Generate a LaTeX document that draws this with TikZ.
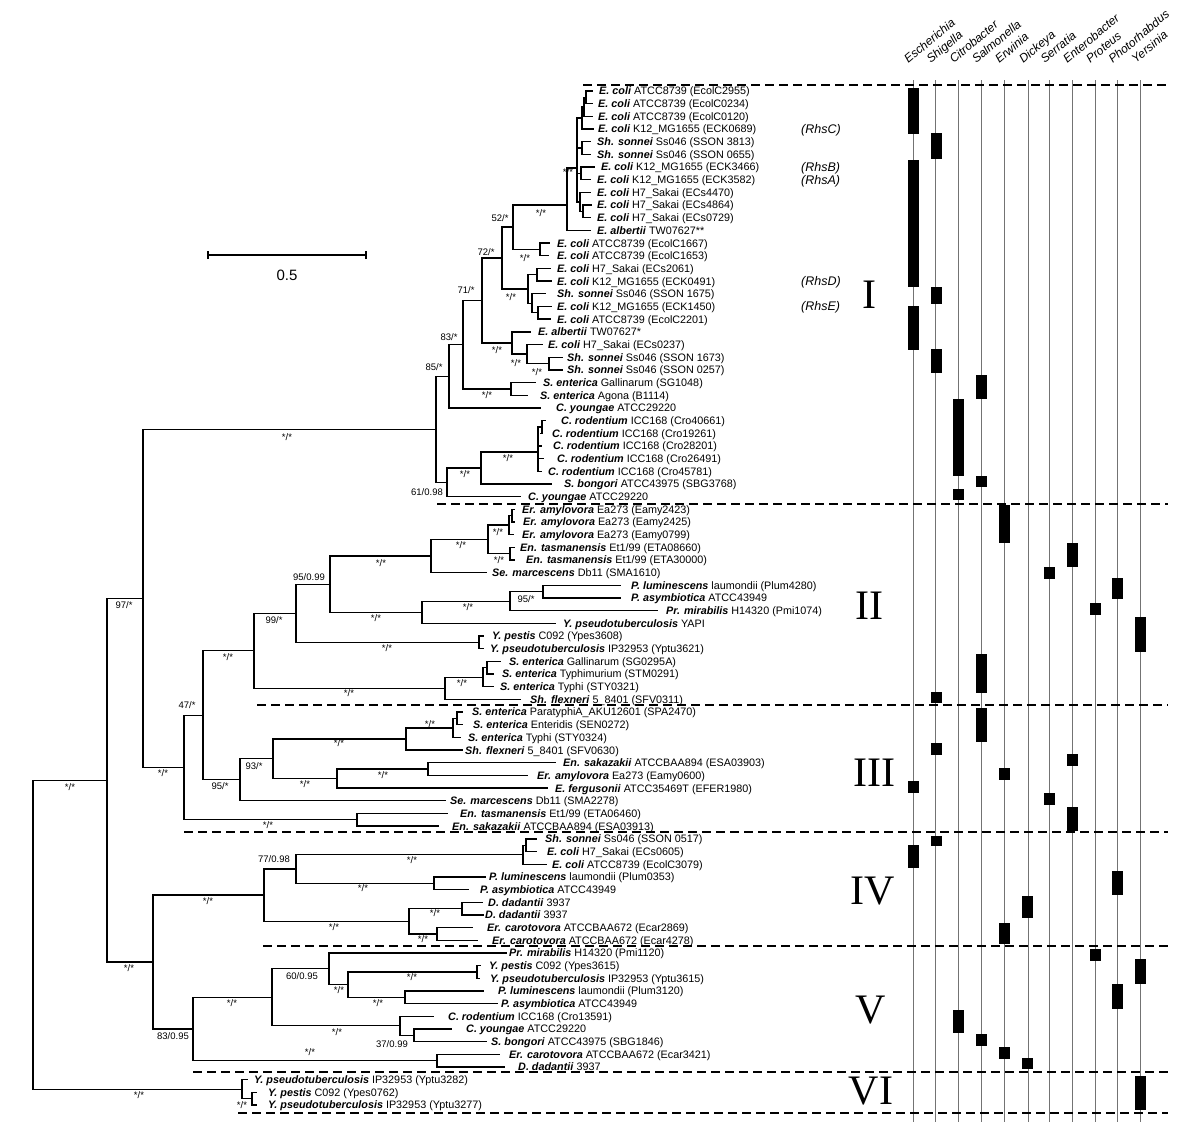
\documentclass[tikz,border=0pt]{standalone}
\usepackage{fontspec}
\setmainfont{Liberation Sans}
\newfontfamily\romfont{Liberation Serif}
\newcommand\spn[1]{\textbf{\textit{#1}}}
\newcommand\rowy[1]{91+12.675*(#1-1)}
\begin{document}
\begin{tikzpicture}[x=1pt,y=-1pt,
  tree/.style={line width=1.35pt,line cap=rect},
  lbl/.style={anchor=base west,inner sep=0pt,font=\fontsize{10.8}{12}\selectfont},
  rhs/.style={anchor=base west,inner sep=0pt,font=\fontsize{12.5}{14}\selectfont\itshape},
  supv/.style={inner sep=0pt,font=\fontsize{9.5}{11}\selectfont},
  roman/.style={inner sep=0pt,font=\fontsize{42}{44}\romfont},
  hdr/.style={rotate=40,anchor=base west,inner sep=0pt,font=\fontsize{12}{14}\selectfont\itshape},
  sepline/.style={line width=1.4pt,dash pattern=on 9pt off 5pt},
  colline/.style={line width=0.9pt,black!55},
  bar/.style={fill=black}]
\useasboundingbox (0,0) rectangle (1200,1136);
\newcommand\leaf[5]{%
  \coordinate (#1) at (#2,{\rowy{#4}});
  \node[lbl] (#1t) at (#3,{\rowy{#4}+3.9}) {#5};}

% ---------- genus columns ----------
\foreach \x/\n [count=\i] in {913.3/Escherichia,935.7/Shigella,958.7/Citrobacter,981.3/Salmonella,1004.3/Erwinia,1028.3/Dickeya,1049.7/Serratia,1072.3/Enterobacter,1095.3/Proteus,1117.7/Photorhabdus,1140.7/Yersinia}{
  \coordinate (ct\i) at (\x,80);
  \coordinate (cb\i) at (\x,1122);
  \draw[colline] (ct\i) -- (cb\i);
  \node[hdr] (h\i) at (\x-5,64) {\n};
}

% ---------- separators ----------
\foreach \xa/\yy in {583/85,437/504,257/705,184/832,263/946,193/1072,238/1113}
  \draw[sepline] (\xa,\yy) -- (1168,\yy);

% ---------- presence bars ----------
\foreach \c/\a/\b in {1/88/134,1/160/287,1/306/350,2/133/159,2/287/304,2/349/373,4/375/399,4/476/487,3/399/476,3/489/500,
  5/505/543,8/543/567,7/567/579,10/578/599,9/603/615,11/617/652,4/654/693,2/692/703,
  4/708/742,2/743/755,8/754/766,5/768/780,1/781/793,7/793/805,8/807/831,
  2/836/846,1/845/868,10/871/895,6/896/918,5/923/944,
  9/949/961,11/959/984,10/984/1009,3/1010/1033,4/1034/1046,5/1047/1059,6/1058/1069,11/1076/1110}{
  \pgfmathsetmacro\cx{913.3+22.74*(\c-1)}
  \fill[bar] (\cx-5.5,\a) rectangle (\cx+5.5,\b);
}

% ---------- leaves ----------
\leaf{L1}{592}{599}{1}{\spn{E. coli} ATCC8739 (EcolC2955)}
\leaf{L2}{592}{598}{2}{\spn{E. coli} ATCC8739 (EcolC0234)}
\leaf{L3}{592}{598}{3}{\spn{E. coli} ATCC8739 (EcolC0120)}
\leaf{L4}{593}{598}{4}{\spn{E. coli} K12\_MG1655 (ECK0689)}
\leaf{L5}{590}{597}{5}{\spn{Sh. sonnei} Ss046 (SSON 3813)}
\leaf{L6}{590}{597}{6}{\spn{Sh. sonnei} Ss046 (SSON 0655)}
\leaf{L7}{594}{601}{7}{\spn{E. coli} K12\_MG1655 (ECK3466)}
\leaf{L8}{590}{597}{8}{\spn{E. coli} K12\_MG1655 (ECK3582)}
\leaf{L9}{590}{597}{9}{\spn{E. coli} H7\_Sakai (ECs4470)}
\leaf{L10}{591}{597}{10}{\spn{E. coli} H7\_Sakai (ECs4864)}
\leaf{L11}{590}{597}{11}{\spn{E. coli} H7\_Sakai (ECs0729)}
\leaf{L12}{590}{597}{12}{\spn{E. albertii} TW07627**}
\leaf{L13}{549}{557}{13}{\spn{E. coli} ATCC8739 (EcolC1667)}
\leaf{L14}{548}{557}{14}{\spn{E. coli} ATCC8739 (EcolC1653)}
\leaf{L15}{550}{557}{15}{\spn{E. coli} H7\_Sakai (ECs2061)}
\leaf{L16}{551}{557}{16}{\spn{E. coli} K12\_MG1655 (ECK0491)}
\leaf{L17}{545}{557}{17}{\spn{Sh. sonnei} Ss046 (SSON 1675)}
\leaf{L18}{551}{557}{18}{\spn{E. coli} K12\_MG1655 (ECK1450)}
\leaf{L19}{550}{557}{19}{\spn{E. coli} ATCC8739 (EcolC2201)}
\leaf{L20}{530}{538}{20}{\spn{E. albertii} TW07627*}
\leaf{L21}{542}{548}{21}{\spn{E. coli} H7\_Sakai (ECs0237)}
\leaf{L22}{562}{567}{22}{\spn{Sh. sonnei} Ss046 (SSON 1673)}
\leaf{L23}{562}{567}{23}{\spn{Sh. sonnei} Ss046 (SSON 0257)}
\leaf{L24}{535}{543}{24}{\spn{S. enterica} Gallinarum (SG1048)}
\leaf{L25}{527}{540}{25}{\spn{S. enterica} Agona (B1114)}
\leaf{L26}{540}{556}{26}{\spn{C. youngae} ATCC29220}
\leaf{L27}{545}{561}{27}{\spn{C. rodentium} ICC168 (Cro40661)}
\leaf{L28}{541}{552}{28}{\spn{C. rodentium} ICC168 (Cro19261)}
\leaf{L29}{541}{553}{29}{\spn{C. rodentium} ICC168 (Cro28201)}
\leaf{L30}{543}{557}{30}{\spn{C. rodentium} ICC168 (Cro26491)}
\leaf{L31}{541}{548}{31}{\spn{C. rodentium} ICC168 (Cro45781)}
\leaf{L32}{551}{564}{32}{\spn{S. bongori} ATCC43975 (SBG3768)}
\leaf{L33}{520}{528}{33}{\spn{C. youngae} ATCC29220}
\leaf{L34}{514}{522}{34}{\spn{Er. amylovora} Ea273 (Eamy2423)}
\leaf{L35}{514}{523}{35}{\spn{Er. amylovora} Ea273 (Eamy2425)}
\leaf{L36}{513}{522}{36}{\spn{Er. amylovora} Ea273 (Eamy0799)}
\leaf{L37}{514}{520}{37}{\spn{En. tasmanensis} Et1/99 (ETA08660)}
\leaf{L38}{514}{526}{38}{\spn{En. tasmanensis} Et1/99 (ETA30000)}
\leaf{L39}{486}{492}{39}{\spn{Se. marcescens} Db11 (SMA1610)}
\leaf{L40}{620}{631}{40}{\spn{P. luminescens} laumondii (Plum4280)}
\leaf{L41}{620}{631}{41}{\spn{P. asymbiotica} ATCC43949}
\leaf{L42}{657}{666}{42}{\spn{Pr. mirabilis} H14320 (Pmi1074)}
\leaf{L43}{555}{563}{43}{\spn{Y. pseudotuberculosis} YAPI}
\leaf{L44}{483}{492}{44}{\spn{Y. pestis} C092 (Ypes3608)}
\leaf{L45}{483}{490}{45}{\spn{Y. pseudotuberculosis} IP32953 (Yptu3621)}
\leaf{L46}{500}{509}{46}{\spn{S. enterica} Gallinarum (SG0295A)}
\leaf{L47}{493}{502}{47}{\spn{S. enterica} Typhimurium (STM0291)}
\leaf{L48}{493}{500}{48}{\spn{S. enterica} Typhi (STY0321)}
\leaf{L49}{520}{530}{49}{\spn{Sh. flexneri} 5\_8401 (SFV0311)}
\leaf{L50}{462}{472}{50}{\spn{S. enterica} ParatyphiA\_AKU12601 (SPA2470)}
\leaf{L51}{462}{473}{51}{\spn{S. enterica} Enteridis (SEN0272)}
\leaf{L52}{460}{468}{52}{\spn{S. enterica} Typhi (STY0324)}
\leaf{L53}{462}{465}{53}{\spn{Sh. flexneri} 5\_8401 (SFV0630)}
\leaf{L54}{555}{563}{54}{\spn{En. sakazakii} ATCCBAA894 (ESA03903)}
\leaf{L55}{527}{537}{55}{\spn{Er. amylovora} Ea273 (Eamy0600)}
\leaf{L56}{547}{555}{56}{\spn{E. fergusonii} ATCC35469T (EFER1980)}
\leaf{L57}{445}{450}{57}{\spn{Se. marcescens} Db11 (SMA2278)}
\leaf{L58}{447}{460}{58}{\spn{En. tasmanensis} Et1/99 (ETA06460)}
\leaf{L59}{438}{452}{59}{\spn{En. sakazakii} ATCCBAA894 (ESA03913)}
\leaf{L60}{536}{545}{60}{\spn{Sh. sonnei} Ss046 (SSON 0517)}
\leaf{L61}{536}{547}{61}{\spn{E. coli} H7\_Sakai (ECs0605)}
\leaf{L62}{546}{552}{62}{\spn{E. coli} ATCC8739 (EcolC3079)}
\leaf{L63}{485}{489}{63}{\spn{P. luminescens} laumondii (Plum0353)}
\leaf{L64}{468}{480}{64}{\spn{P. asymbiotica} ATCC43949}
\leaf{L65}{482}{488}{65}{\spn{D. dadantii} 3937}
\leaf{L66}{483}{485}{66}{\spn{D. dadantii} 3937}
\leaf{L67}{472}{487}{67}{\spn{Er. carotovora} ATCCBAA672 (Ecar2869)}
\leaf{L68}{477}{492}{68}{\spn{Er. carotovora} ATCCBAA672 (Ecar4278)}
\leaf{L69}{506}{509}{69}{\spn{Pr. mirabilis} H14320 (Pmi1120)}
\leaf{L70}{480}{489}{70}{\spn{Y. pestis} C092 (Ypes3615)}
\leaf{L71}{479}{490}{71}{\spn{Y. pseudotuberculosis} IP32953 (Yptu3615)}
\leaf{L72}{483}{498}{72}{\spn{P. luminescens} laumondii (Plum3120)}
\leaf{L73}{497}{501}{73}{\spn{P. asymbiotica} ATCC43949}
\leaf{L74}{433}{448}{74}{\spn{C. rodentium} ICC168 (Cro13591)}
\leaf{L75}{451}{466}{75}{\spn{C. youngae} ATCC29220}
\leaf{L76}{486}{491}{76}{\spn{S. bongori} ATCC43975 (SBG1846)}
\leaf{L77}{499}{509}{77}{\spn{Er. carotovora} ATCCBAA672 (Ecar3421)}
\leaf{L78}{504}{518}{78}{\spn{D. dadantii} 3937}
\leaf{L79}{247}{254}{79}{\spn{Y. pseudotuberculosis} IP32953 (Yptu3282)}
\leaf{L80}{256}{268}{80}{\spn{Y. pestis} C092 (Ypes0762)}
\leaf{L81}{256}{268}{81}{\spn{Y. pseudotuberculosis} IP32953 (Yptu3277)}

% ---------- internal nodes ----------
\coordinate (a1) at (586,97.4);
\coordinate (a2) at (584,107);
\coordinate (a3) at (582,118);
\coordinate (a4) at (582,148);
\coordinate (a5) at (581,173.4);
\coordinate (a6b) at (583,211.5);
\coordinate (a6) at (580,202);
\coordinate (b0) at (577,168);
\coordinate (B) at (567,205);
\coordinate (n1314) at (540,249.5);
\coordinate (N52) at (513,227);
\coordinate (n1516) at (537,274.8);
\coordinate (n1819) at (538,312.8);
\coordinate (nX17) at (532,303.3);
\coordinate (D) at (528,289);
\coordinate (X72) at (502,258);
\coordinate (H) at (549,363.5);
\coordinate (G) at (527,354);
\coordinate (F) at (512,343);
\coordinate (N71) at (482,300.5);
\coordinate (Salm) at (511,388.9);
\coordinate (N83) at (463,344.7);
\coordinate (N85) at (449,376.3);
\coordinate (c1) at (542,426.9);
\coordinate (Crod) at (538,452);
\coordinate (K) at (481,468);
\coordinate (N61) at (447,482.3);
\coordinate (NI) at (436,429.3);
\coordinate (e1) at (512,515.6);
\coordinate (Erw) at (509,525);
\coordinate (Ent) at (510,553.6);
\coordinate (N488) at (488,539.3);
\coordinate (N431) at (431,556);
\coordinate (N543) at (543,591.7);
\coordinate (N510) at (510,601.2);
\coordinate (N422) at (422,612.3);
\coordinate (N330) at (330,584.2);
\coordinate (Yp) at (479,642.4);
\coordinate (N296) at (296,613.3);
\coordinate (s1) at (487,667.7);
\coordinate (sub) at (483,677.2);
\coordinate (SalmII) at (445,688.3);
\coordinate (N254) at (254,650.8);
\coordinate (nA) at (457,718.4);
\coordinate (nS) at (453,727.9);
\coordinate (S3) at (406,739);
\coordinate (N428) at (428,769.1);
\coordinate (N337) at (337,778.6);
\coordinate (N273) at (273,758.8);
\coordinate (N240) at (240,779.8);
\coordinate (N203) at (203,715.3);
\coordinate (N357) at (357,819.8);
\coordinate (N184) at (184,767.5);
\coordinate (N143) at (143,598.4);
\coordinate (n6061) at (526,845.2);
\coordinate (N523) at (523,854.7);
\coordinate (N434) at (434,883.2);
\coordinate (N296b) at (296,869);
\coordinate (Dd) at (462,908.5);
\coordinate (Ec) at (437,933.9);
\coordinate (N409) at (409,921.2);
\coordinate (NIV) at (264,895.1);
\coordinate (Yp2) at (477,972);
\coordinate (Pl2) at (405,997.3);
\coordinate (N348) at (348,984.6);
\coordinate (N330b) at (329,968.8);
\coordinate (N415) at (414,1035.3);
\coordinate (N400) at (400,1025.8);
\coordinate (N272) at (272,997.3);
\coordinate (Ed) at (437,1060.7);
\coordinate (NV) at (193,1029);
\coordinate (N153) at (153,962);
\coordinate (N107) at (107,780.2);
\coordinate (n8081) at (252,1098.7);
\coordinate (NVI) at (242,1089.2);
\coordinate (Root) at (33,934.7);

% ---------- branches ----------
\foreach \p/\c in {a1/L1,a1/L2,a2/a1,a2/L3,a3/a2,a3/L4,a4/L5,a4/L6,a5/L7,a5/L8,a6/L9,a6/a6b,a6b/L10,a6b/L11,
  b0/a3,b0/a4,b0/a5,b0/a6,B/b0,B/L12,n1314/L13,n1314/L14,N52/B,N52/n1314,
  n1516/L15,n1516/L16,n1819/L18,n1819/L19,nX17/L17,nX17/n1819,D/n1516,D/nX17,X72/N52,X72/D,
  H/L22,H/L23,G/L21,G/H,F/L20,F/G,N71/X72,N71/F,Salm/L24,Salm/L25,N83/N71,N83/Salm,N85/N83,N85/L26,
  c1/L27,c1/L28,Crod/c1,Crod/L29,Crod/L30,Crod/L31,K/Crod,K/L32,N61/K,N61/L33,NI/N85,NI/N61,
  e1/L34,e1/L35,Erw/e1,Erw/L36,Ent/L37,Ent/L38,N488/Erw,N488/Ent,N431/N488,N431/L39,
  N543/L40,N543/L41,N510/N543,N510/L42,N422/N510,N422/L43,N330/N431,N330/N422,
  Yp/L44,Yp/L45,N296/N330,N296/Yp,s1/L46,s1/L47,sub/s1,sub/L48,SalmII/sub,SalmII/L49,N254/N296,N254/SalmII,
  nA/L50,nA/L51,nS/nA,nS/L52,S3/nS,S3/L53,N428/L54,N428/L55,N337/N428,N337/L56,N273/S3,N273/N337,
  N240/N273,N240/L57,N203/N254,N203/N240,N357/L58,N357/L59,N184/N203,N184/N357,N143/NI,N143/N184,
  n6061/L60,n6061/L61,N523/n6061,N523/L62,N434/L63,N434/L64,N296b/N523,N296b/N434,
  Dd/L65,Dd/L66,Ec/L67,Ec/L68,N409/Dd,N409/Ec,NIV/N296b,NIV/N409,
  Yp2/L70,Yp2/L71,Pl2/L72,Pl2/L73,N348/Yp2,N348/Pl2,N330b/L69,N330b/N348,
  N415/L75,N415/L76,N400/L74,N400/N415,N272/N330b,N272/N400,Ed/L77,Ed/L78,NV/N272,NV/Ed,
  N153/NIV,N153/NV,N107/N143,N107/N153,n8081/L80,n8081/L81,NVI/L79,NVI/n8081,Root/N107,Root/NVI}
  \draw[tree] (\p) |- (\c);

% ---------- support values ----------
\node[supv] (v1) at (541,213) {*/*};
\node[supv] (v2) at (568,172) {*/*};
\node[supv] (v3) at (500,218) {52/*};
\node[supv] (v4) at (525,258) {*/*};
\node[supv] (v5) at (486,252) {72/*};
\node[supv] (v6) at (511,297) {*/*};
\node[supv] (v7) at (466,290) {71/*};
\node[supv] (v8) at (497,350) {*/*};
\node[supv] (v9) at (516,363) {*/*};
\node[supv] (v10) at (537,372) {*/*};
\node[supv] (v11) at (449,337) {83/*};
\node[supv] (v12) at (487,395) {*/*};
\node[supv] (v13) at (434,367) {85/*};
\node[supv] (v14) at (465,474) {*/*};
\node[supv] (v15) at (508,458) {*/*};
\node[supv] (v16) at (427,492) {61/0.98};
\node[supv] (v17) at (287,437) {*/*};
\node[supv] (v18) at (124,605) {97/*};
\node[supv] (v19) at (381,563) {*/*};
\node[supv] (v20) at (376,618) {*/*};
\node[supv] (v21) at (461,545) {*/*};
\node[supv] (v22) at (498,532) {*/*};
\node[supv] (v23) at (499,560) {*/*};
\node[supv] (v24) at (526,599) {95/*};
\node[supv] (v25) at (468,607) {*/*};
\node[supv] (v26) at (309,577) {95/0.99};
\node[supv] (v27) at (274,620) {99/*};
\node[supv] (v28) at (387,648) {*/*};
\node[supv] (v29) at (228,657) {*/*};
\node[supv] (v30) at (349,693) {*/*};
\node[supv] (v31) at (462,683) {*/*};
\node[supv] (v32) at (187,705) {47/*};
\node[supv] (v33) at (430,724) {*/*};
\node[supv] (v34) at (339,743) {*/*};
\node[supv] (v35) at (383,775) {*/*};
\node[supv] (v36) at (305,784) {*/*};
\node[supv] (v37) at (254,766) {93/*};
\node[supv] (v38) at (220,786) {95/*};
\node[supv] (v39) at (268,825) {*/*};
\node[supv] (v40) at (163,773) {*/*};
\node[supv] (v41) at (274,859) {77/0.98};
\node[supv] (v42) at (412,860) {*/*};
\node[supv] (v43) at (363,888) {*/*};
\node[supv] (v44) at (208,901) {*/*};
\node[supv] (v45) at (435,913) {*/*};
\node[supv] (v46) at (423,939) {*/*};
\node[supv] (v47) at (334,927) {*/*};
\node[supv] (v48) at (129,968) {*/*};
\node[supv] (v49) at (302,976) {60/0.95};
\node[supv] (v50) at (339,990) {*/*};
\node[supv] (v51) at (412,977) {*/*};
\node[supv] (v52) at (378,1003) {*/*};
\node[supv] (v53) at (337,1032) {*/*};
\node[supv] (v54) at (392,1044) {37/0.99};
\node[supv] (v55) at (232,1003) {*/*};
\node[supv] (v56) at (310,1052) {*/*};
\node[supv] (v57) at (173,1036) {83/0.95};
\node[supv] (v58) at (70,787) {*/*};
\node[supv] (v59) at (139,1095) {*/*};
\node[supv] (v60) at (242,1105) {*/*};

% ---------- Rhs names ----------
\node[rhs] (rC) at (801,{\rowy{4}+4.4}) {(RhsC)};
\node[rhs] (rB) at (801,{\rowy{7}+4.4}) {(RhsB)};
\node[rhs] (rA) at (801,{\rowy{8}+4.4}) {(RhsA)};
\node[rhs] (rD) at (801,{\rowy{16}+4.4}) {(RhsD)};
\node[rhs] (rE) at (801,{\rowy{18}+4.4}) {(RhsE)};

% ---------- clade numerals ----------
\node[roman] (cI) at (869,295) {I};
\node[roman] (cII) at (869,606) {II};
\node[roman] (cIII) at (874,773) {III};
\node[roman] (cIV) at (873,891) {IV};
\node[roman] (cV) at (871,1010) {V};
\node[roman] (cVI) at (871,1091) {VI};

% ---------- scale bar ----------
\coordinate (sbL) at (208,255);
\coordinate (sbR) at (366,255);
\draw[line width=1.3pt] (sbL) -- (sbR);
\draw[line width=1.3pt] ([yshift=-4pt]sbL) -- ([yshift=4pt]sbL);
\draw[line width=1.3pt] ([yshift=-4pt]sbR) -- ([yshift=4pt]sbR);
\node[inner sep=0pt,font=\fontsize{15}{17}\selectfont] (sbt) at (287,275) {0.5};
\end{tikzpicture}
\end{document}
